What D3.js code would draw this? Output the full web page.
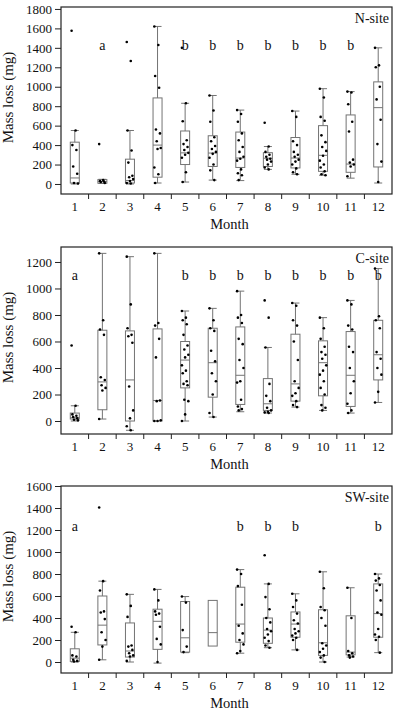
<!DOCTYPE html>
<html>
<head>
<meta charset="utf-8">
<script src="https://cdn.jsdelivr.net/npm/d3@7"></script>
<style>
	body { margin: 0; background: #fff; -webkit-font-smoothing: antialiased; }
	svg text { font-family: "Liberation Serif", "DejaVu Serif", serif !important; fill: #111; }
</style>
</head>
<body>
<div id="chart"></div>
<script>
const months = [1, 2, 3, 4, 5, 6, 7, 8, 9, 10, 11, 12];

// box stats per month: [min, q1, median, q3, max]
const nSiteBox = [
	[0, 10, 62, 430, 550], [5, 8, 25, 45, 48], [0, 10, 35, 255, 550], [10, 70, 400, 885, 1620],
	[20, 200, 320, 545, 830], [40, 180, 318, 496, 910], [35, 170, 267, 534, 760], [150, 180, 265, 322, 385],
	[100, 165, 267, 478, 750], [90, 130, 295, 600, 980], [60, 120, 205, 710, 950], [10, 175, 785, 1050, 1400]
];
const nSitePoints = [
	[1575, 550, 400, 350, 180, 105, 10, 5],
	[410, 40, 30, 25, 20, 10],
	[1460, 1265, 550, 345, 220, 85, 70, 50, 30, 10, 5],
	[1620, 1430, 1110, 990, 560, 520, 440, 370, 360, 170, 100, 10],
	[1400, 830, 645, 450, 410, 380, 350, 320, 300, 270, 120, 20],
	[910, 755, 640, 480, 440, 390, 360, 330, 310, 270, 200, 140, 40],
	[760, 720, 640, 520, 450, 380, 330, 280, 260, 240, 150, 110, 90, 40],
	[630, 385, 330, 300, 280, 260, 250, 230, 200, 170, 150],
	[750, 690, 440, 400, 330, 300, 280, 250, 230, 200, 160, 120, 100],
	[980, 890, 690, 650, 500, 430, 380, 340, 290, 240, 200, 170, 130, 100, 90],
	[950, 940, 820, 640, 540, 250, 220, 200, 180, 80],
	[1400, 1220, 1200, 1000, 870, 660, 410, 230, 20]
];
const nSiteLetters = ["", "a", "", "", "b", "b", "b", "b", "b", "b", "b", ""];

const cSiteBox = [
	[0, 15, 25, 60, 115], [15, 85, 295, 685, 1265], [-70, 0, 310, 680, 1240], [0, 0, 155, 695, 1265],
	[0, 250, 460, 600, 830], [30, 180, 440, 700, 850], [70, 125, 345, 710, 980], [60, 80, 130, 320, 555],
	[105, 150, 280, 655, 890], [80, 190, 440, 605, 780], [60, 110, 345, 675, 910], [140, 310, 500, 760, 1150]
];
const cSitePoints = [
	[570, 115, 50, 40, 30, 20, 10, 5],
	[1265, 760, 690, 650, 330, 310, 270, 250, 230, 15],
	[1240, 880, 700, 650, 640, 590, 260, 80, 20, -40, -70],
	[1265, 740, 720, 620, 480, 155, 150, 5, 0, 0],
	[830, 780, 760, 730, 650, 570, 540, 500, 480, 420, 380, 360, 300, 280, 270, 160, 150, 50, 0],
	[850, 760, 700, 680, 530, 450, 360, 300, 200, 60, 30],
	[980, 800, 780, 740, 620, 580, 460, 400, 300, 290, 160, 110, 90, 80],
	[910, 780, 555, 280, 190, 150, 100, 80, 70, 65, 60],
	[890, 870, 760, 720, 600, 460, 300, 250, 210, 190, 150, 120, 105],
	[780, 700, 620, 560, 520, 500, 470, 420, 380, 350, 300, 250, 200, 120, 100, 80],
	[910, 880, 720, 690, 560, 520, 400, 300, 210, 130, 80, 60],
	[1150, 790, 760, 700, 520, 470, 400, 350, 220, 140]
];
const cSiteLetters = ["a", "", "", "", "b", "b", "b", "b", "b", "b", "b", "b"];

const swSiteBox = [
	[0, 5, 35, 120, 270], [20, 155, 335, 600, 735], [0, 45, 100, 355, 615], [-10, 115, 370, 480, 660],
	[85, 90, 220, 550, 595], [145, 145, 267, 560, 560], [80, 180, 345, 680, 840], [130, 170, 290, 400, 710],
	[110, 225, 345, 455, 620], [0, 60, 175, 475, 820], [45, 65, 90, 420, 675], [85, 225, 440, 710, 800]
];
const swSitePoints = [
	[320, 270, 60, 50, 20, 10, 5],
	[1405, 735, 650, 460, 450, 390, 270, 200, 140, 20],
	[615, 510, 410, 150, 140, 110, 80, 60, 50, 10],
	[660, 560, 460, 440, 430, 320, 210, 160, 0],
	[595, 540, 290, 140, 90],
	[],
	[840, 800, 690, 520, 330, 260, 200, 160, 100, 80],
	[970, 710, 590, 480, 400, 360, 300, 280, 250, 220, 190, 150, 130],
	[620, 560, 500, 440, 380, 350, 300, 280, 260, 240, 220, 200, 110],
	[820, 670, 500, 470, 400, 330, 170, 150, 120, 90, 60, 40, 0],
	[675, 400, 100, 80, 60, 50, 40],
	[800, 760, 740, 700, 650, 560, 450, 430, 300, 250, 230, 200, 85]
];
const swSiteLetters = ["a", "", "", "", "", "", "b", "b", "b", "", "", "b"];

const nSiteTicks = [0, 200, 400, 600, 800, 1000, 1200, 1400, 1600, 1800];
const cSiteTicks = [0, 200, 400, 600, 800, 1000, 1200];
const swSiteTicks = [0, 200, 400, 600, 800, 1000, 1200, 1400, 1600];

let width = 394, height = 712;
let left = 61, right = 392;
let serif = "Liberation Serif, DejaVu Serif, serif";

var svg = d3.select("#chart")
	.append("svg")
	.attr("width", width)
	.attr("height", height)
	.attr("font-family", serif);

var x = d3.scaleBand()
	.domain(months)
	.range([left, right]);

function drawPanel(p) {
	let y = d3.scaleLinear()
		.domain(p.domain)
		.range([p.bottom, p.top]);

	let g = svg.append("g");
	let boxW = 9, capW = 8;

	// y axis
	g.append("g")
		.attr("transform", "translate(" + left + ",0)")
		.call(d3.axisLeft(y).tickValues(p.ticks).tickFormat(d3.format("d")).tickSize(6).tickPadding(3).tickSizeOuter(0))
		.attr("font-family", serif)
		.attr("font-size", 13)
		.call(a => a.select(".domain").remove())
		.call(a => a.selectAll("line").attr("stroke", "#222"));

	// month labels, ticks sit between months
	g.append("g")
		.attr("transform", "translate(0," + p.bottom + ")")
		.call(d3.axisBottom(x).tickSize(0).tickPadding(8))
		.attr("font-family", serif)
		.attr("font-size", 13)
		.call(a => a.select(".domain").remove());

	g.selectAll(".sep")
		.data(months.slice(1))
		.enter()
		.append("line")
		.attr("x1", d => x(d))
		.attr("x2", d => x(d))
		.attr("y1", p.bottom)
		.attr("y2", p.bottom + 5)
		.attr("stroke", "#222");

	let gray = "#737373";
	let boxes = g.selectAll(".box")
		.data(p.box)
		.enter()
		.append("g")
		.attr("transform", (d, i) => "translate(" + (x(months[i]) + x.bandwidth() / 2) + ",0)");

	// whiskers
	boxes.append("line")
		.attr("y1", d => y(d[0])).attr("y2", d => y(d[1]))
		.attr("stroke", gray);
	boxes.append("line")
		.attr("y1", d => y(d[3])).attr("y2", d => y(d[4]))
		.attr("stroke", gray);
	boxes.filter(d => d[4] > d[3]).append("line")
		.attr("x1", -capW / 2).attr("x2", capW / 2)
		.attr("y1", d => y(d[4])).attr("y2", d => y(d[4]))
		.attr("stroke", gray);
	boxes.filter(d => d[0] < d[1]).append("line")
		.attr("x1", -capW / 2).attr("x2", capW / 2)
		.attr("y1", d => y(d[0])).attr("y2", d => y(d[0]))
		.attr("stroke", gray);

	boxes.append("rect")
		.attr("x", -boxW / 2)
		.attr("width", boxW)
		.attr("y", d => y(d[3]))
		.attr("height", d => Math.max(1, y(d[1]) - y(d[3])))
		.attr("fill", "none")
		.attr("stroke", gray);
	boxes.append("line")
		.attr("x1", -boxW / 2).attr("x2", boxW / 2)
		.attr("y1", d => y(d[2])).attr("y2", d => y(d[2]))
		.attr("stroke", gray);

	// raw points, small fixed jitter
	boxes.each(function (d, i) {
		d3.select(this).selectAll("circle")
			.data(p.points[i])
			.enter()
			.append("circle")
			.attr("cx", (v, j) => (((j * 5) % 9) - 4) * 0.8)
			.attr("cy", v => y(v))
			.attr("r", 1.3)
			.attr("fill", "#000");
	});

	// group letters
	g.selectAll(".letter")
		.data(p.letters)
		.enter()
		.append("text")
		.attr("x", (d, i) => x(months[i]) + x.bandwidth() / 2)
		.attr("y", y(p.letterY))
		.attr("dy", "0.35em")
		.attr("text-anchor", "middle")
		.attr("font-size", 14)
		.text(d => d);

	// frame
	g.append("rect")
		.attr("x", left)
		.attr("y", p.top)
		.attr("width", right - left)
		.attr("height", p.bottom - p.top)
		.attr("fill", "none")
		.attr("stroke", "#222")
		.attr("stroke-width", 1.2);

	g.append("text")
		.attr("x", right - 3)
		.attr("y", p.top + 16)
		.attr("text-anchor", "end")
		.attr("font-size", 14)
		.text(p.name);

	g.append("text")
		.attr("x", (left + right) / 2 + 3)
		.attr("y", p.bottom + 35)
		.attr("text-anchor", "middle")
		.attr("font-size", 14.5)
		.text("Month");

	g.append("text")
		.attr("transform", "translate(13," + ((p.top + p.bottom) / 2 - 3) + ") rotate(-90)")
		.attr("text-anchor", "middle")
		.attr("font-size", 15)
		.text("Mass loss (mg)");
}

drawPanel({ name: "N-site", top: 7, bottom: 194, domain: [-103, 1820], ticks: nSiteTicks,
	box: nSiteBox, points: nSitePoints, letters: nSiteLetters, letterY: 1430 });
drawPanel({ name: "C-site", top: 247, bottom: 434, domain: [-98, 1313], ticks: cSiteTicks,
	box: cSiteBox, points: cSitePoints, letters: cSiteLetters, letterY: 1100 });
drawPanel({ name: "SW-site", top: 486, bottom: 673, domain: [-100, 1600], ticks: swSiteTicks,
	box: swSiteBox, points: swSitePoints, letters: swSiteLetters, letterY: 1236 });
</script>
</body>
</html>
